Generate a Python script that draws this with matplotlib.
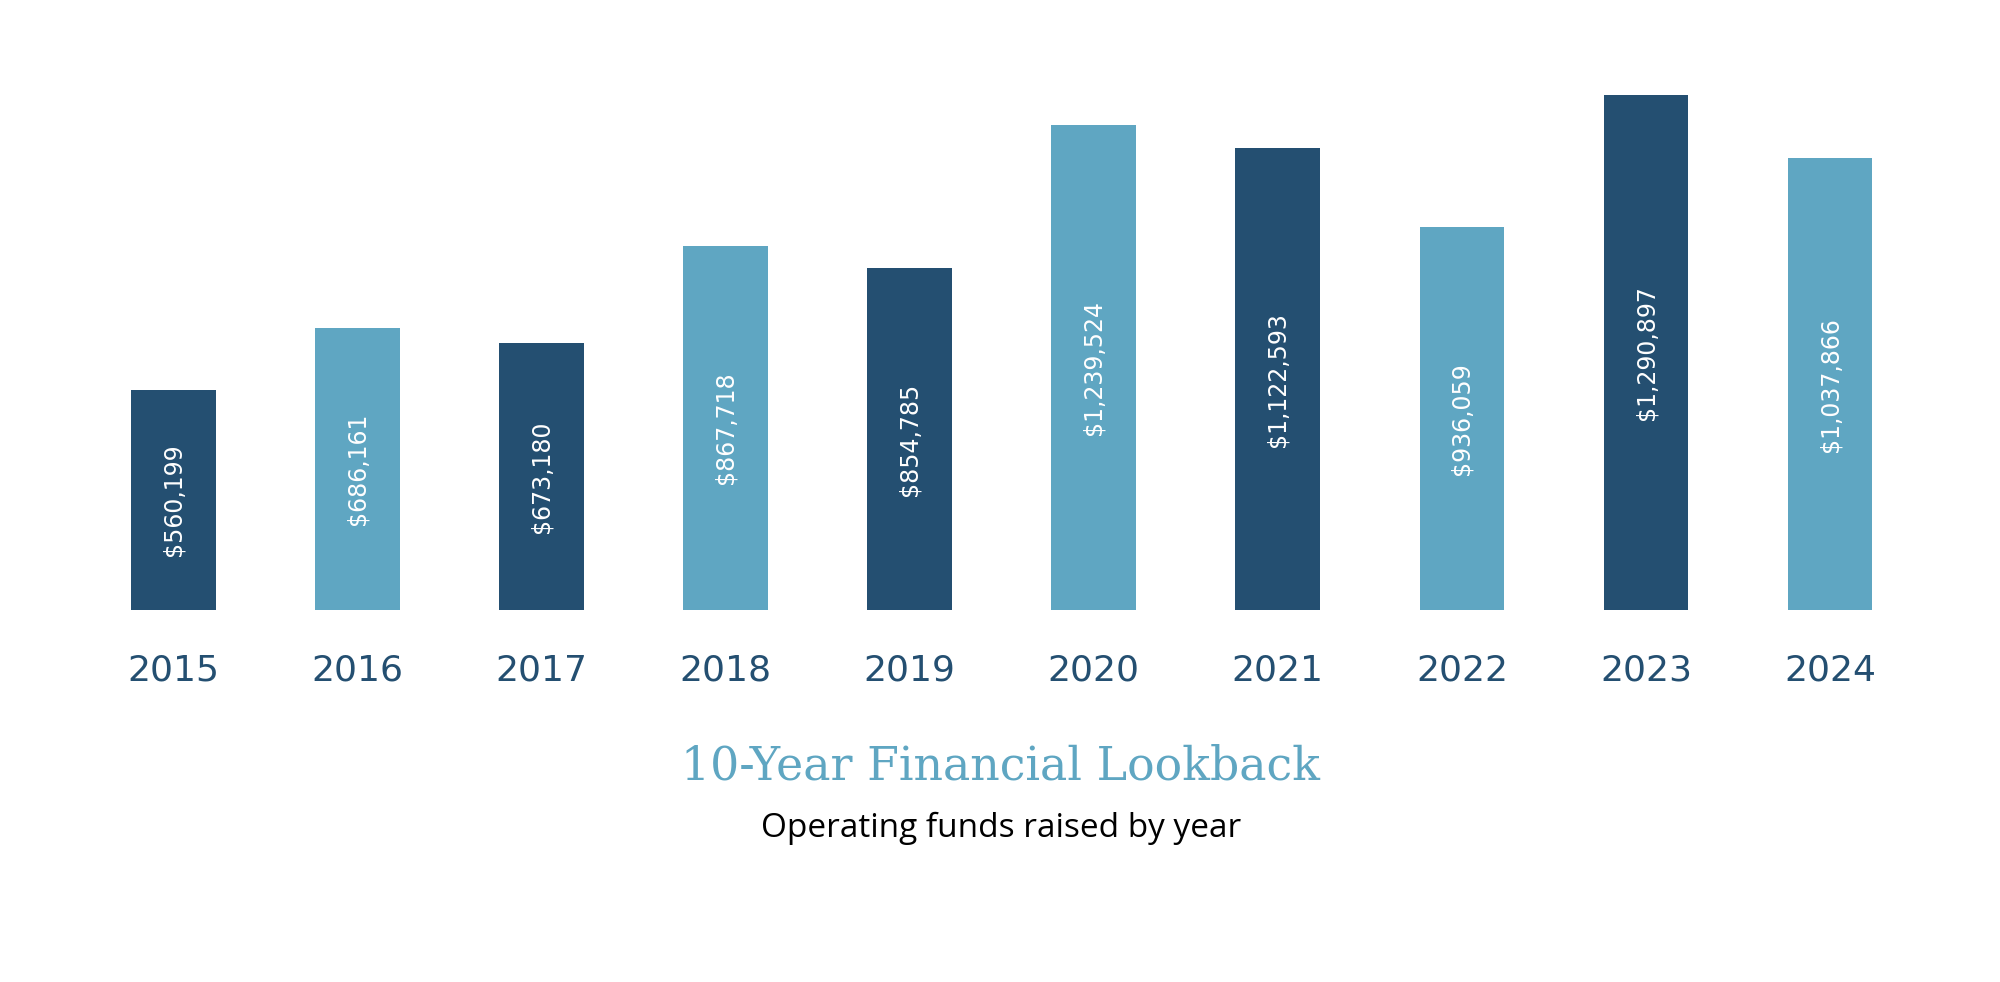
import matplotlib
matplotlib.use("Agg")
import matplotlib.pyplot as plt

years = ["2015", "2016", "2017", "2018", "2019", "2020", "2021", "2022", "2023", "2024"]
# amounts printed on the bars
values = [560199, 686161, 673180, 867718, 854785, 1239524, 1122593, 936059, 1290897, 1037866]
labels = ["$560,199", "$686,161", "$673,180", "$867,718", "$854,785",
          "$1,239,524", "$1,122,593", "$936,059", "$1,290,897", "$1,037,866"]
# bar heights as drawn in the picture (the source's bars are not strictly to scale)
bar_heights = [551000, 704000, 668000, 910000, 855000, 1213000, 1154000, 957000, 1288000, 1129000]
title = "10-Year Financial Lookback"
subtitle = "Operating funds raised by year"

DARK = "#244F71"
LIGHT = "#5FA6C2"
bar_colors = [DARK, LIGHT, DARK, LIGHT, DARK, LIGHT, DARK, LIGHT, DARK, LIGHT]

W, H = 2000, 982
fig = plt.figure(figsize=(W / 100, H / 100), dpi=100)
fig.patch.set_facecolor("white")

bottom_px = 610
ax = fig.add_axes([0, (H - bottom_px) / H, 1, bottom_px / H])
ax.set_axis_off()

x = list(range(len(years)))
ax.bar(x, bar_heights, width=0.46, color=bar_colors, linewidth=0)

per_px = 2500.0
ax.set_ylim(0, bottom_px * per_px)
spacing = 184.1
first = 173.2
ax.set_xlim(-first / spacing, (W - first) / spacing)

for xi, h, lab in zip(x, bar_heights, labels):
    ax.text(xi, h / 2, lab, rotation=90, ha="center", va="center",
            color="white", fontsize=17, family="DejaVu Sans")

for xi, yr in zip(x, years):
    xf = (first + spacing * xi) / W
    fig.text(xf, 1 - 667 / H, yr, ha="center", va="center_baseline", color=DARK,
             fontsize=26, family="DejaVu Sans")

fig.text(1001 / W, 1 - 767 / H, title, ha="center", va="center", color=LIGHT,
         fontsize=33, family="DejaVu Serif")
fig.text(1001 / W, 1 - 828 / H, subtitle, ha="center", va="center", color="black",
         fontsize=24, family="Open Sans")

fig.savefig("out.png", dpi=100, facecolor="white")
